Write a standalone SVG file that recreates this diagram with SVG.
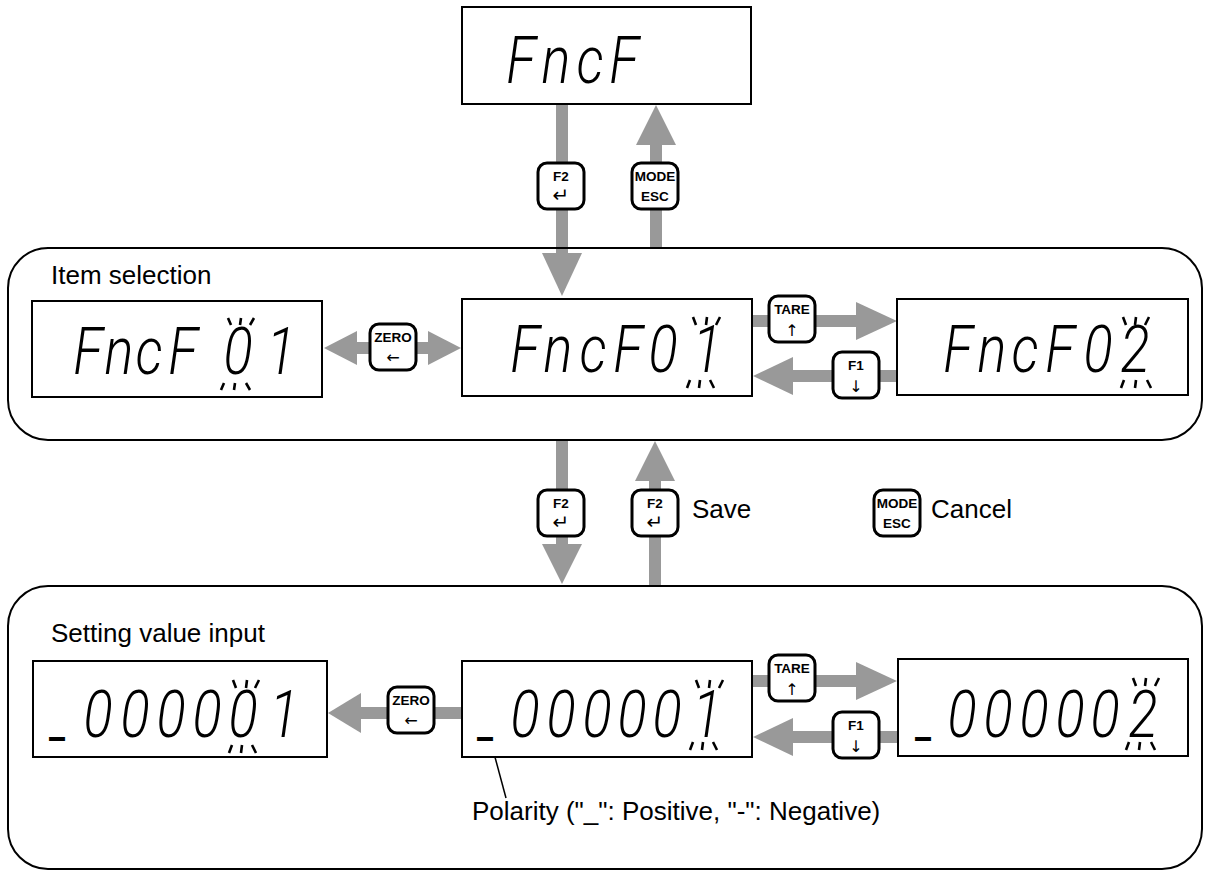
<svg xmlns="http://www.w3.org/2000/svg" width="1209" height="872" viewBox="0 0 1209 872">
<style>
.panel{fill:none;stroke:#000;stroke-width:2}
.lcd{fill:#fff;stroke:#000;stroke-width:2}
.seg{font-family:Roboto,"Liberation Sans",sans-serif;font-weight:300;font-style:italic;font-size:66px;text-anchor:middle;fill:#000}
.us{font-family:Roboto,"Liberation Sans",sans-serif;font-weight:700;font-size:36px;text-anchor:middle;fill:#000}
.blink{fill:none;stroke:#000;stroke-width:2.6}
.arr{fill:#999999;stroke:none}
.key{fill:#fff;stroke:#000;stroke-width:3}
.kt{font-family:"Liberation Sans",Arial,sans-serif;font-weight:bold;font-size:13.5px;text-anchor:middle;fill:#000}
.ka{font-family:"DejaVu Sans",sans-serif;font-size:16px;text-anchor:middle;fill:#000}
.kr{font-family:"DejaVu Sans",sans-serif;font-size:20px;text-anchor:middle;fill:#000}
.lbl{font-family:"Liberation Sans",Arial,sans-serif;font-size:26px;fill:#000}
</style>

<g id="connectors">
  <rect class="arr" x="556" y="104" width="12" height="150"/>
  <polygon class="arr" points="542,253 582,253 562,296"/>
  <polygon class="arr" points="636,145 676,145 656,105"/>
  <rect class="arr" x="650" y="144" width="12" height="104"/>
  <rect class="arr" x="355" y="342" width="75" height="12"/>
  <polygon class="arr" points="324,348 357,331 357,365"/>
  <polygon class="arr" points="461,348 428,331 428,365"/>
  <rect class="arr" x="752" y="315" width="106" height="12"/>
  <polygon class="arr" points="856,302 856,340 897,321"/>
  <rect class="arr" x="790" y="370" width="107" height="12"/>
  <polygon class="arr" points="753,376 793,357 793,395"/>
  <rect class="arr" x="556" y="440" width="12" height="106"/>
  <polygon class="arr" points="542,544 582,544 562,584"/>
  <polygon class="arr" points="635,481 675,481 655,441"/>
  <rect class="arr" x="649" y="480" width="12" height="106"/>
  <polygon class="arr" points="328,713 361,693 361,733"/>
  <rect class="arr" x="360" y="707" width="102" height="12"/>
  <rect class="arr" x="752" y="675" width="106" height="12"/>
  <polygon class="arr" points="856,662 856,700 897,681"/>
  <rect class="arr" x="792" y="731" width="106" height="12"/>
  <polygon class="arr" points="753,737 793,718 793,756"/>
  <line x1="492" y1="746" x2="506" y2="798" stroke="#000" stroke-width="1.5"/>
</g>

<g id="panel-item-selection">
  <rect class="panel" x="8" y="248" width="1194" height="192" rx="40" ry="40"/>
  <text class="lbl" x="51" y="284">Item selection</text>
</g>
<g id="panel-setting-value">
  <rect class="panel" x="8" y="586" width="1194" height="283" rx="40" ry="40"/>
  <text class="lbl" x="51" y="642">Setting value input</text>
</g>

<g id="disp-fncf">
  <rect class="lcd" x="462" y="7" width="289" height="97"/>
  <text class="seg" transform="matrix(0.82 0 0 1 0 0)" x="635.4 678 719.5 761" y="83">FncF</text>
</g>

<g id="disp-fncf01-left">
  <rect class="lcd" x="32" y="301" width="290" height="96"/>
  <text class="seg" transform="matrix(0.82 0 0 1 0 0)" x="107.3 145.1 181.7 223.2 290.2 342.7" y="374">FncF01</text>
  <path class="blink" d="M228,318 L231,325 M241,318 L240,325 M254,318 L250,325 M224,383 L221,390 M235,383 L234,390 M246,383 L250,390"/>
</g>

<g id="disp-fncf01-mid">
  <rect class="lcd" x="462" y="299" width="290" height="97"/>
  <text class="seg" transform="matrix(0.82 0 0 1 0 0)" x="640.2 680.5 723.2 765.9 808.5 862.2" y="372">FncF01</text>
  <path class="blink" d="M693,317 L696,325 M707,317 L706,325 M720,317 L716,325 M690,380 L687,388 M700,380 L699,388 M710,380 L714,388"/>
</g>

<g id="disp-fncf02">
  <rect class="lcd" x="897" y="299" width="291" height="96"/>
  <text class="seg" transform="matrix(0.82 0 0 1 0 0)" x="1168.3 1209.8 1250 1292.7 1339 1384.1" y="372">FncF02</text>
  <path class="blink" d="M1123,317 L1126,325 M1136,317 L1135,325 M1149,317 L1145,325 M1124,380 L1121,388 M1136,380 L1135,388 M1147,380 L1151,388"/>
</g>

<g id="disp-val-left">
  <rect class="lcd" x="33" y="661" width="294" height="96"/>
  <text class="us" x="57" y="737">_</text>
  <text class="seg" transform="matrix(0.82 0 0 1 0 0)" x="119.5 164.6 208.5 252.4 296.3 346.3" y="737">000001</text>
  <path class="blink" d="M233,680 L236,688 M247,680 L246,688 M259,680 L255,688 M232,745 L229,753 M242,745 L241,753 M252,745 L256,753"/>
</g>

<g id="disp-val-mid">
  <rect class="lcd" x="462" y="661" width="290" height="96"/>
  <text class="us" x="485" y="737">_</text>
  <text class="seg" transform="matrix(0.82 0 0 1 0 0)" x="640.2 684.1 728 770.7 813.4 862.2" y="737">000001</text>
  <path class="blink" d="M696,680 L699,688 M710,680 L709,688 M723,680 L719,688 M693,742 L690,750 M703,742 L702,750 M713,742 L717,750"/>
</g>

<g id="disp-val-right">
  <rect class="lcd" x="898" y="659" width="290" height="97"/>
  <text class="us" x="923" y="737">_</text>
  <text class="seg" transform="matrix(0.82 0 0 1 0 0)" x="1173.2 1217.1 1261 1304.9 1347.6 1393.9" y="737">000002</text>
  <path class="blink" d="M1133,678 L1136,686 M1146,678 L1145,686 M1159,678 L1155,686 M1129,742 L1126,750 M1140,742 L1139,750 M1151,742 L1155,750"/>
</g>

<g id="key-f2-top">
  <rect class="key" x="538" y="163" width="46" height="46" rx="9"/>
  <text class="kt" x="561" y="181">F2</text>
  <text class="kr" x="561" y="202">↵</text>
</g>
<g id="key-mode-top">
  <rect class="key" x="632" y="163" width="46" height="46" rx="9"/>
  <text class="kt" x="655" y="181">MODE</text>
  <text class="kt" x="655" y="201">ESC</text>
</g>
<g id="key-zero-top">
  <rect class="key" x="370" y="324" width="46" height="46" rx="9"/>
  <text class="kt" x="393" y="342">ZERO</text>
  <text class="ka" x="393" y="363">←</text>
</g>
<g id="key-tare-top">
  <rect class="key" x="769" y="296" width="46" height="46" rx="9"/>
  <text class="kt" x="792" y="314">TARE</text>
  <text class="ka" x="792" y="336">↑</text>
</g>
<g id="key-f1-top">
  <rect class="key" x="833" y="352" width="46" height="46" rx="9"/>
  <text class="kt" x="856" y="370">F1</text>
  <text class="ka" x="856" y="392">↓</text>
</g>
<g id="key-f2-down">
  <rect class="key" x="538" y="490" width="46" height="46" rx="9"/>
  <text class="kt" x="561" y="508">F2</text>
  <text class="kr" x="561" y="529">↵</text>
</g>
<g id="key-f2-save">
  <rect class="key" x="632" y="490" width="46" height="46" rx="9"/>
  <text class="kt" x="655" y="508">F2</text>
  <text class="kr" x="655" y="529">↵</text>
  <text class="lbl" x="692" y="518">Save</text>
</g>
<g id="key-mode-cancel">
  <rect class="key" x="874" y="490" width="46" height="46" rx="9"/>
  <text class="kt" x="897" y="508">MODE</text>
  <text class="kt" x="897" y="528">ESC</text>
  <text class="lbl" x="931" y="518">Cancel</text>
</g>
<g id="key-zero-bottom">
  <rect class="key" x="388" y="687" width="46" height="46" rx="9"/>
  <text class="kt" x="411" y="705">ZERO</text>
  <text class="ka" x="411" y="726">←</text>
</g>
<g id="key-tare-bottom">
  <rect class="key" x="769" y="655" width="46" height="46" rx="9"/>
  <text class="kt" x="792" y="673">TARE</text>
  <text class="ka" x="792" y="695">↑</text>
</g>
<g id="key-f1-bottom">
  <rect class="key" x="833" y="712" width="46" height="46" rx="9"/>
  <text class="kt" x="856" y="730">F1</text>
  <text class="ka" x="856" y="752">↓</text>
</g>

<g id="polarity-note">
  <text class="lbl" x="472" y="820">Polarity ("_": Positive, "-": Negative)</text>
</g>
</svg>
